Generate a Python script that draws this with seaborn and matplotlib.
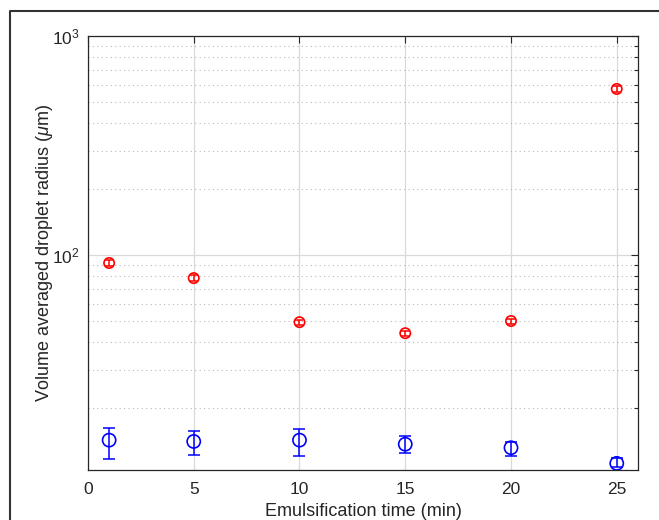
import numpy as np
import pandas as pd
import seaborn as sns
import matplotlib.pyplot as plt
from matplotlib.lines import Line2D

# Emulsification time (min)
time_min = [1, 5, 10, 15, 20, 25]

# Red series: volume averaged radius (um) and error half-width
red_radius = [92, 78.5, 49.4, 44, 50, 573]
red_err = [3, 2.2, 1.3, 1.2, 1.3, 16]

# Blue series
blue_radius = [14.3, 14.1, 14.3, 13.7, 13.2, 11.2]
blue_err_lo = [2.6, 1.9, 2.2, 1.2, 1.1, 0.45]
blue_err_hi = [1.9, 1.6, 1.7, 1.2, 0.8, 0.6]

df = pd.DataFrame({"time": time_min * 2,
                   "radius": red_radius + blue_radius,
                   "series": ["red"] * 6 + ["blue"] * 6})

sns.set_theme(style="white")
plt.rcParams['font.family'] = ['Liberation Sans', 'DejaVu Sans']
plt.rcParams['mathtext.fontset'] = 'custom'
plt.rcParams['mathtext.rm'] = 'Liberation Sans'
plt.rcParams['mathtext.it'] = 'Liberation Sans:italic'

fig = plt.figure(figsize=(6.59, 5.20), dpi=100)
ax = fig.add_axes([0.1335, 0.0962, 0.8345, 0.8346])

# error bars first, markers on top
ax.errorbar(time_min, red_radius, yerr=red_err, fmt="none",
            ecolor="#ff0000", elinewidth=1.1, capsize=2.8, capthick=1.1)
ax.errorbar(time_min, blue_radius, yerr=[blue_err_lo, blue_err_hi], fmt="none",
            ecolor="#0000ff", elinewidth=1.1, capsize=4.5, capthick=1.1)

sns.scatterplot(data=df[df.series == "red"], x="time", y="radius", ax=ax,
                marker="o", s=55, facecolor="none", edgecolor="#ff0000",
                linewidth=1.2, legend=False)
sns.scatterplot(data=df[df.series == "blue"], x="time", y="radius", ax=ax,
                marker="o", s=90, facecolor="none", edgecolor="#0000ff",
                linewidth=1.2, legend=False)

ax.set_yscale("log")
ax.set_xlim(0, 26)
ax.set_ylim(10.45, 1000)
ax.set_xticks([0, 5, 10, 15, 20, 25])

# MATLAB-like grids
ax.grid(True, which="major", color="#d9d9d9", linestyle="-", linewidth=0.9)
ax.grid(True, which="minor", axis="y", color="#b8b8b8", linestyle=(0, (1, 3)), linewidth=0.8)
ax.set_axisbelow(True)

ax.tick_params(which="both", direction="in", top=True, right=True,
               colors="#262626", labelsize=12.5)
ax.tick_params(axis="x", pad=9)
ax.tick_params(axis="y", pad=6)
ax.tick_params(which="major", length=5, width=0.8)
ax.tick_params(which="minor", length=3, width=0.8)
for s in ax.spines.values():
    s.set_color("#262626")
    s.set_linewidth(0.9)

ax.set_xlabel("Emulsification time (min)", fontsize=13, color="#262626", labelpad=4)
ax.set_ylabel(r"Volume averaged droplet radius ($\mu$m)", fontsize=13,
              color="#262626", labelpad=-2)

# partial frame (left and top edges)
fx, fy = 9.5 / 659, 1 - 11 / 520
fig.lines.append(Line2D([fx, fx, 1.0], [0.0, fy, fy], transform=fig.transFigure,
                        color="#333333", linewidth=1.5))

fig.savefig("out.png", dpi=100, facecolor="white")
